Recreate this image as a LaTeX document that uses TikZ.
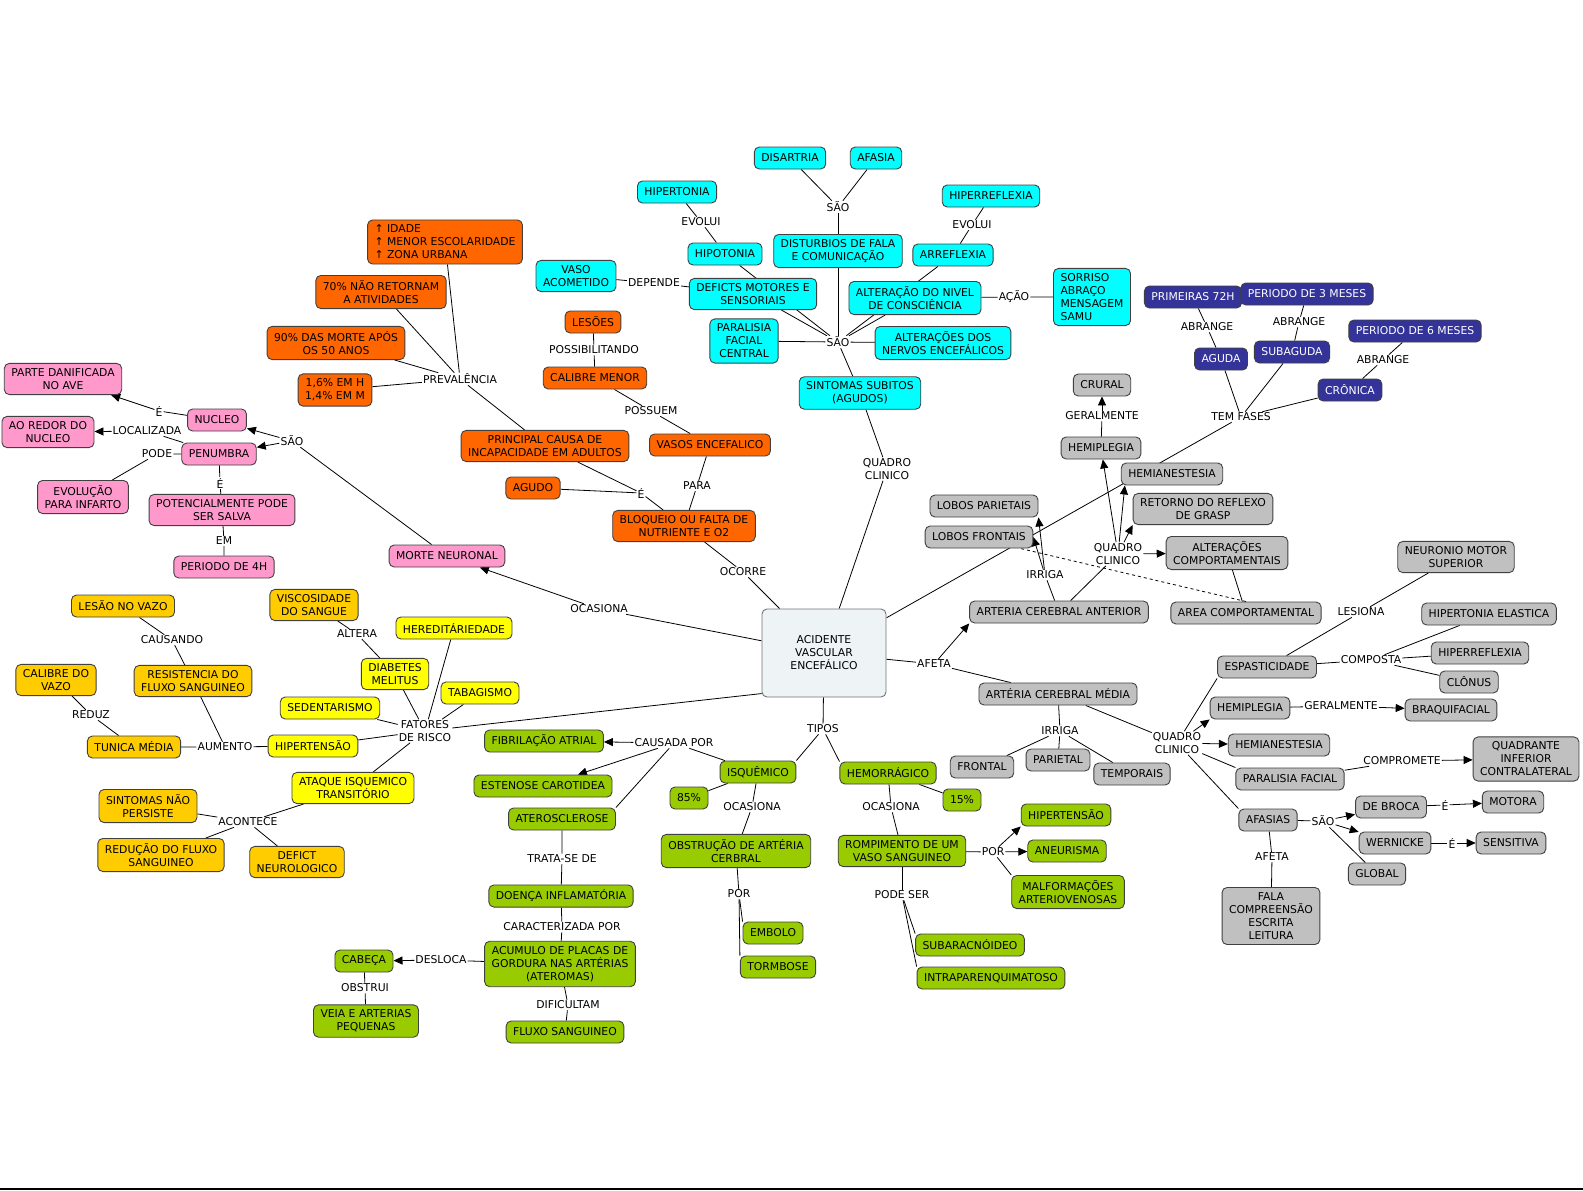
\documentclass[tikz,border=0pt]{standalone}
\usepackage{fontspec}
\setmainfont{DejaVu Sans}
\usepackage{tikz}
\usetikzlibrary{arrows.meta,calc,backgrounds}
\definecolor{cpink}{HTML}{FF99CC}
\definecolor{corange}{HTML}{FF6600}
\definecolor{ccyan}{HTML}{00FFFF}
\definecolor{cblue}{HTML}{333399}
\definecolor{cgray}{HTML}{C0C0C0}
\definecolor{cgold}{HTML}{FFCC00}
\definecolor{cyel}{HTML}{FFFF00}
\definecolor{cgreen}{HTML}{99CC00}
\definecolor{cmain}{HTML}{EEF3F5}
\tikzset{
  box/.style={rectangle, draw=black!75, line width=0.9pt, rounded corners=5pt, align=center, inner xsep=7pt, inner ysep=5pt, minimum height=22pt, font=\fontsize{10.8}{13}\selectfont},
  pinkbox/.style={box, fill=cpink},
  orbox/.style={box, fill=corange},
  cybox/.style={box, fill=ccyan},
  blbox/.style={box, fill=cblue, text=white},
  grbox/.style={box, fill=cgray},
  gdbox/.style={box, fill=cgold},
  yebox/.style={box, fill=cyel},
  gnbox/.style={box, fill=cgreen},
  mainbox/.style={box, fill=cmain, draw=black!55, minimum width=124pt, minimum height=88pt},
  lk/.style={inner sep=1pt, align=center, font=\fontsize{10.8}{13}\selectfont},
  ln/.style={line width=0.8pt},
  ar/.style={ln, -{Triangle[length=9pt,width=8pt]}},
  dsh/.style={ln, dashed}
}

\begin{document}
\begin{tikzpicture}[x=1pt,y=-1pt]
\useasboundingbox (0,0) rectangle (1583,1191);
% centro
\node[mainbox] (ave) at (824,653) {ACIDENTE\\VASCULAR\\ENCEFÁLICO};

% penumbra / nucleo
\node[pinkbox] (parte) at (63,379) {PARTE DANIFICADA\\NO AVE};
\node[pinkbox] (redor) at (48,432) {AO REDOR DO\\NUCLEO};
\node[pinkbox] (nucleo) at (217,420) {NUCLEO};
\node[pinkbox] (penum) at (219,454) {PENUMBRA};
\node[pinkbox] (evol) at (83,497) {EVOLUÇÃO\\PARA INFARTO};
\node[pinkbox] (salva) at (222,510) {POTENCIALMENTE PODE\\SER SALVA};
\node[pinkbox] (p4h) at (224,567) {PERIODO DE 4H};
\node[pinkbox] (morte) at (447,556) {MORTE NEURONAL};
\node[lk] (lE1) at (159,411) {É};
\node[lk] (lLoc) at (147,431) {LOCALIZADA};
\node[lk] (lPode) at (157,454) {PODE};
\node[lk] (lE2) at (220,483) {É};
\node[lk] (lEm) at (224,541) {EM};
\node[lk] (lSao1) at (292,441) {SÃO};
\node[lk] (lOcas1) at (599,609) {OCASIONA};

% prevalencia
\node[orbox, align=left] (idade) at (445,242) {↑ IDADE\\↑ MENOR ESCOLARIDADE\\↑ ZONA URBANA};
\node[orbox] (ret70) at (381,292) {70\% NÃO RETORNAM\\A ATIVIDADES};
\node[orbox] (m90) at (336,343) {90\% DAS MORTE APÓS\\OS 50 ANOS};
\node[orbox] (pct) at (335,390) {1,6\% EM H\\1,4\% EM M};
\node[lk] (lPrev) at (460,379) {PREVALÊNCIA};
\node[orbox] (princ) at (545,446) {PRINCIPAL CAUSA DE\\INCAPACIDADE EM ADULTOS};
\node[orbox] (agudo) at (533,488) {AGUDO};
\node[lk] (lE3) at (641,493) {É};
\node[orbox] (lesoes) at (593,322) {LESÕES};
\node[lk] (lPossi) at (594,350) {POSSIBILITANDO};
\node[orbox] (calib) at (595,378) {CALIBRE MENOR};
\node[lk] (lPossu) at (651,411) {POSSUEM};
\node[orbox] (vasos) at (710,445) {VASOS ENCEFALICO};
\node[lk] (lPara) at (697,486) {PARA};
\node[orbox] (bloq) at (684,526) {BLOQUEIO OU FALTA DE\\NUTRIENTE E O2};
\node[lk] (lOcorre) at (743,572) {OCORRE};

% quadro clinico
\node[cybox] (disart) at (790,158) {DISARTRIA};
\node[cybox] (afasia) at (876,158) {AFASIA};
\node[lk] (lSao2) at (838,207) {SÃO};
\node[cybox] (hiperton) at (677,192) {HIPERTONIA};
\node[lk] (lEvol1) at (701,222) {EVOLUI};
\node[cybox] (hipoton) at (725,254) {HIPOTONIA};
\node[cybox] (disturb) at (838,251) {DISTURBIOS DE FALA\\E COMUNICAÇÃO};
\node[cybox] (hiperref) at (991,196) {HIPERREFLEXIA};
\node[lk] (lEvol2) at (972,225) {EVOLUI};
\node[cybox] (arref) at (953,255) {ARREFLEXIA};
\node[cybox] (vaso) at (576,276) {VASO\\ACOMETIDO};
\node[lk] (lDep) at (654,283) {DEPENDE};
\node[cybox] (deficts) at (753,294) {DEFICTS MOTORES E\\SENSORIAIS};
\node[cybox] (nivel) at (915,298) {ALTERAÇÃO DO NIVEL\\DE CONSCIÊNCIA};
\node[lk] (lAcao) at (1014,297) {AÇÃO};
\node[cybox, align=left] (sorriso) at (1092,297) {SORRISO\\ABRAÇO\\MENSAGEM\\SAMU};
\node[cybox] (parfc) at (744,341) {PARALISIA\\FACIAL\\CENTRAL};
\node[lk] (lSao3) at (838,342) {SÃO};
\node[cybox] (nervos) at (943,343) {ALTERAÇÕES DOS\\NERVOS ENCEFÁLICOS};
\node[cybox] (sint) at (860,393) {SINTOMAS SUBITOS\\(AGUDOS)};
\node[lk] (lQc1) at (887,469) {QUADRO\\CLINICO};

% fases
\node[blbox] (p72) at (1193,297) {PRIMEIRAS 72H};
\node[blbox] (p3m) at (1307,294) {PERIODO DE 3 MESES};
\node[lk] (lAbr1) at (1207,327) {ABRANGE};
\node[lk] (lAbr2) at (1299,322) {ABRANGE};
\node[blbox] (aguda) at (1221,359) {AGUDA};
\node[blbox] (subag) at (1292,352) {SUBAGUDA};
\node[blbox] (p6m) at (1415,331) {PERIODO DE 6 MESES};
\node[lk] (lAbr3) at (1383,360) {ABRANGE};
\node[blbox] (cronica) at (1350,390) {CRÔNICA};
\node[lk] (lFases) at (1241,417) {TEM FASES};

% arterias
\node[grbox] (crural) at (1102,385) {CRURAL};
\node[lk] (lGer1) at (1102,416) {GERALMENTE};
\node[grbox] (hemiT) at (1101,448) {HEMIPLEGIA};
\node[grbox] (hemaT) at (1172,474) {HEMIANESTESIA};
\node[grbox] (retorno) at (1203,509) {RETORNO DO REFLEXO\\DE GRASP};
\node[grbox] (lpar) at (984,506) {LOBOS PARIETAIS};
\node[grbox] (lfro) at (979,537) {LOBOS FRONTAIS};
\node[lk] (lQc2) at (1118,554) {QUADRO\\CLINICO};
\node[grbox] (altc) at (1227,553) {ALTERAÇÕES\\COMPORTAMENTAIS};
\node[lk] (lIrr1) at (1045,575) {IRRIGA};
\node[grbox] (acant) at (1059,612) {ARTERIA CEREBRAL ANTERIOR};
\node[grbox] (areac) at (1246,613) {AREA COMPORTAMENTAL};
\node[lk] (lAfeta1) at (934,664) {AFETA};
\node[grbox] (acmed) at (1058,694) {ARTÉRIA CEREBRAL MÉDIA};
\node[lk] (lIrr2) at (1060,731) {IRRIGA};
\node[grbox] (frontal) at (982,767) {FRONTAL};
\node[grbox] (parietal) at (1058,760) {PARIETAL};
\node[grbox] (tempor) at (1132,774) {TEMPORAIS};
\node[lk] (lQc3) at (1177,743) {QUADRO\\CLINICO};
\node[grbox] (esp) at (1267,667) {ESPASTICIDADE};
\node[grbox] (neuro) at (1456,557) {NEURONIO MOTOR\\SUPERIOR};
\node[lk] (lLes) at (1361,612) {LESIONA};
\node[grbox] (hiperel) at (1489,614) {HIPERTONIA ELASTICA};
\node[lk] (lComp) at (1371,660) {COMPOSTA};
\node[grbox] (hiperR) at (1480,653) {HIPERREFLEXIA};
\node[grbox] (clonus) at (1469,682) {CLÔNUS};
\node[grbox] (hemiR) at (1250,708) {HEMIPLEGIA};
\node[lk] (lGer2) at (1341,706) {GERALMENTE};
\node[grbox] (braq) at (1451,710) {BRAQUIFACIAL};
\node[grbox] (hemaR) at (1279,745) {HEMIANESTESIA};
\node[grbox] (paf) at (1290,779) {PARALISIA FACIAL};
\node[lk] (lCompr) at (1402,761) {COMPROMETE};
\node[grbox] (quadr) at (1526,759) {QUADRANTE\\INFERIOR\\CONTRALATERAL};
\node[grbox] (broca) at (1391,807) {DE BROCA};
\node[lk] (lE4) at (1445,805) {É};
\node[grbox] (motora) at (1513,802) {MOTORA};
\node[grbox] (afas) at (1268,820) {AFASIAS};
\node[lk] (lSao4) at (1323,821) {SÃO};
\node[grbox] (wern) at (1395,843) {WERNICKE};
\node[lk] (lE5) at (1452,843) {É};
\node[grbox] (sens) at (1511,843) {SENSITIVA};
\node[grbox] (global) at (1377,874) {GLOBAL};
\node[lk] (lAfeta2) at (1272,857) {AFETA};
\node[grbox] (fala) at (1271,916) {FALA\\COMPREENSÃO\\ESCRITA\\LEITURA};

% tipos
\node[gnbox] (fibr) at (544,741) {FIBRILAÇÃO ATRIAL};
\node[lk] (lCaus) at (674,743) {CAUSADA POR};
\node[gnbox] (esten) at (543,786) {ESTENOSE CAROTIDEA};
\node[gnbox] (ath) at (562,819) {ATEROSCLEROSE};
\node[lk] (lTipos) at (823,729) {TIPOS};
\node[gnbox] (isq) at (758,772) {ISQUÊMICO};
\node[gnbox] (hem) at (888,773) {HEMORRÁGICO};
\node[gnbox] (p85) at (689,798) {85\%};
\node[gnbox] (p15) at (962,800) {15\%};
\node[lk] (lOc2) at (752,807) {OCASIONA};
\node[lk] (lOc3) at (891,807) {OCASIONA};
\node[gnbox] (obst) at (736,851) {OBSTRUÇÃO DE ARTÉRIA\\CERBRAL};
\node[gnbox] (romp) at (902,851) {ROMPIMENTO DE UM\\VASO SANGUINEO};
\node[gnbox] (hipG) at (1066,815) {HIPERTENSÃO};
\node[lk] (lPor2) at (993,852) {POR};
\node[gnbox] (aneu) at (1067,851) {ANEURISMA};
\node[gnbox] (malf) at (1068,892) {MALFORMAÇÕES\\ARTERIOVENOSAS};
\node[lk] (lPodeSer) at (902,895) {PODE SER};
\node[gnbox] (subar) at (970,945) {SUBARACNÓIDEO};
\node[gnbox] (intra) at (991,978) {INTRAPARENQUIMATOSO};
\node[lk] (lPor1) at (739,894) {POR};
\node[gnbox] (embolo) at (773,933) {EMBOLO};
\node[gnbox] (tormb) at (778,967) {TORMBOSE};
\node[lk] (lTrata) at (562,859) {TRATA-SE DE};
\node[gnbox] (doenca) at (561,896) {DOENÇA INFLAMATÓRIA};
\node[lk] (lCarac) at (562,927) {CARACTERIZADA POR};
\node[gnbox] (acum) at (560,964) {ACUMULO DE PLACAS DE\\GORDURA NAS ARTÉRIAS\\(ATEROMAS)};
\node[lk] (lDif) at (568,1005) {DIFICULTAM};
\node[gnbox] (fluxo) at (565,1032) {FLUXO SANGUINEO};
\node[gnbox] (cabeca) at (364,961) {CABEÇA};
\node[lk] (lDesl) at (441,960) {DESLOCA};
\node[lk] (lObs) at (365,988) {OBSTRUI};
\node[gnbox] (veia) at (366,1021) {VEIA E ARTERIAS\\PEQUENAS};

% fatores de risco
\node[gdbox] (lesao) at (123,606) {LESÃO NO VAZO};
\node[lk] (lCausando) at (172,640) {CAUSANDO};
\node[gdbox] (visc) at (314,605) {VISCOSIDADE\\DO SANGUE};
\node[lk] (lAltera) at (357,634) {ALTERA};
\node[yebox] (hered) at (454,628) {HEREDITÁRIEDADE};
\node[gdbox] (calvazo) at (56,680) {CALIBRE DO\\VAZO};
\node[gdbox] (resist) at (193,681) {RESISTENCIA DO\\FLUXO SANGUINEO};
\node[yebox] (diab) at (395,674) {DIABETES\\MELITUS};
\node[yebox] (tabag) at (480,693) {TABAGISMO};
\node[yebox] (sedent) at (330,708) {SEDENTARISMO};
\node[lk] (lReduz) at (91,715) {REDUZ};
\node[lk] (lFat) at (425,731) {FATORES\\DE RISCO};
\node[gdbox] (tunica) at (134,747) {TUNICA MÉDIA};
\node[lk] (lAum) at (225,747) {AUMENTO};
\node[yebox] (hipY) at (313,746) {HIPERTENSÃO};
\node[yebox] (ataque) at (353,788) {ATAQUE ISQUEMICO\\TRANSITÓRIO};
\node[gdbox] (sintn) at (148,806) {SINTOMAS NÃO\\PERSISTE};
\node[lk] (lAcont) at (248,822) {ACONTECE};
\node[gdbox] (reduc) at (161,855) {REDUÇÃO DO FLUXO\\SANGUINEO};
\node[gdbox] (defict) at (297,862) {DEFICT\\NEUROLOGICO};

\begin{scope}[on background layer]
% penumbra
\draw[ln] (ave) -- (lOcas1);
\draw[ar] (lOcas1) -- (morte);
\draw[ln] (morte) -- (lSao1);
\draw[ar] (lSao1) -- (nucleo);
\draw[ar] (lSao1) -- (penum);
\draw[ln] (nucleo) -- (lE1);
\draw[ar] (lE1) -- (parte);
\draw[ln] (penum) -- (lLoc);
\draw[ar] (lLoc) -- (redor);
\draw[ln] (penum) -- (lPode) -- (evol);
\draw[ln] (penum) -- (lE2) -- (salva) -- (lEm) -- (p4h);
% prevalencia
\draw[ln] (idade) -- (lPrev);
\draw[ln] (ret70) -- (lPrev);
\draw[ln] (m90) -- (lPrev);
\draw[ln] (pct) -- (lPrev);
\draw[ln] (lPrev) -- (princ);
\draw[ln] (princ) -- (lE3);
\draw[ln] (agudo) -- (lE3);
\draw[ln] (lE3) -- (bloq);
\draw[ln] (lesoes) -- (lPossi) -- (calib) -- (lPossu) -- (vasos) -- (lPara) -- (bloq);
\draw[ln] (bloq) -- (lOcorre) -- (ave);
% quadro clinico
\draw[ln] (ave) -- (lQc1) -- (sint) -- (lSao3);
\draw[ln] (lSao3) -- (deficts);
\draw[ln] (lSao3) -- (hipoton);
\draw[ln] (lSao3) -- (disturb);
\draw[ln] (lSao3) -- (arref);
\draw[ln] (lSao3) -- (nivel);
\draw[ln] (lSao3) -- (parfc);
\draw[ln] (lSao3) -- (nervos);
\draw[ln] (disturb) -- (lSao2);
\draw[ln] (lSao2) -- (disart);
\draw[ln] (lSao2) -- (afasia);
\draw[ln] (hipoton) -- (lEvol1) -- (hiperton);
\draw[ln] (arref) -- (lEvol2) -- (hiperref);
\draw[ln] (deficts) -- (lDep) -- (vaso);
\draw[ln] (nivel) -- (lAcao) -- (sorriso);
% fases
\draw[ln] (ave) -- (lFases);
\draw[ln] (lFases) -- (aguda);
\draw[ln] (lFases) -- (subag);
\draw[ln] (lFases) -- (cronica);
\draw[ln] (aguda) -- (lAbr1) -- (p72);
\draw[ln] (subag) -- (lAbr2) -- (p3m);
\draw[ln] (cronica) -- (lAbr3) -- (p6m);
% arteria cerebral anterior
\draw[ln] (ave) -- (lAfeta1);
\draw[ar] (lAfeta1) -- (acant.south west);
\draw[ln] (lAfeta1) -- (acmed);
\draw[ln] (acant) -- (lIrr1);
\draw[ar] (lIrr1) -- (lpar.south east);
\draw[ar] (lIrr1) -- (lfro.east);
\draw[ln] (acant) -- (lQc2);
\draw[ar] (lQc2) -- (hemiT);
\draw[ar] (lQc2) -- ($(hemaT.south west)+(4,0)$);
\draw[ar] (lQc2) -- (retorno.south west);
\draw[ar] (lQc2) -- (altc);
\draw[ln] (hemiT) -- (lGer1);
\draw[ar] (lGer1) -- (crural);
\draw[ln] (altc) -- (areac);
\draw[dsh] (areac.north) -- ($(lfro.south east)+(-13,0)$);
% arteria cerebral media
\draw[ln] (acmed) -- (lIrr2);
\draw[ln] (lIrr2) -- (frontal);
\draw[ln] (lIrr2) -- (parietal);
\draw[ln] (lIrr2) -- (tempor);
\draw[ln] (acmed) -- (lQc3);
\draw[ln] (lQc3) -- (esp.south west);
\draw[ar] (lQc3) -- (hemiR.south west);
\draw[ar] (lQc3) -- (hemaR);
\draw[ln] (lQc3) -- (paf.north west);
\draw[ln] (lQc3) -- (afas.north west);
\draw[ln] (esp) -- (lLes) -- (neuro);
\draw[ln] (esp) -- (lComp);
\draw[ln] (lComp) -- (hiperel);
\draw[ln] (lComp) -- (hiperR);
\draw[ln] (lComp) -- (clonus);
\draw[ln] (hemiR) -- (lGer2);
\draw[ar] (lGer2) -- (braq);
\draw[ln] (paf) -- (lCompr);
\draw[ar] (lCompr) -- (quadr);
\draw[ln] (afas) -- (lSao4);
\draw[ar] (lSao4) -- (broca);
\draw[ar] (lSao4) -- (wern);
\draw[ln] (lSao4) -- (global);
\draw[ln] (broca) -- (lE4);
\draw[ar] (lE4) -- (motora);
\draw[ln] (wern) -- (lE5);
\draw[ar] (lE5) -- (sens);
\draw[ln] (afas) -- (lAfeta2) -- (fala);
% tipos
\draw[ln] (ave) -- (lTipos);
\draw[ln] (lTipos) -- (isq.north east);
\draw[ln] (lTipos) -- (hem.north west);
\draw[ln] (isq) -- (p85);
\draw[ln] (hem) -- (p15);
\draw[ln] (isq) -- (lCaus);
\draw[ar] (lCaus) -- (fibr);
\draw[ar] (lCaus) -- (esten);
\draw[ln] (lCaus) -- (ath.north east);
\draw[ln] (isq) -- (lOc2) -- (obst) -- (lPor1);
\draw[ln] (lPor1) -- (embolo.north west);
\draw[ln] (lPor1) -- (tormb.north west);
\draw[ln] (hem) -- (lOc3) -- (romp) -- (lPor2);
\draw[ar] (lPor2) -- (hipG.south west);
\draw[ar] (lPor2) -- (aneu);
\draw[ln] (lPor2) -- (malf.north west);
\draw[ln] (romp) -- (lPodeSer);
\draw[ln] (lPodeSer) -- (subar.north west);
\draw[ln] (lPodeSer) -- (intra.north west);
\draw[ln] (ath) -- (lTrata) -- (doenca) -- (lCarac) -- (acum) -- (lDif) -- (fluxo);
\draw[ln] (acum) -- (lDesl);
\draw[ar] (lDesl) -- (cabeca);
\draw[ln] (cabeca) -- (lObs) -- (veia);
% fatores de risco
\draw[ln] (ave.213) -- (lFat);
\draw[ln] (lFat) -- (hered);
\draw[ln] (lFat) -- (diab);
\draw[ln] (lFat) -- (tabag);
\draw[ln] (lFat) -- (sedent);
\draw[ln] (lFat) -- (hipY);
\draw[ln] (lFat) -- (ataque);
\draw[ln] (diab) -- (lAltera) -- (visc);
\draw[ln] (hipY) -- (lAum) -- (tunica);
\draw[ln] (lAum) -- (resist) -- (lCausando) -- (lesao);
\draw[ln] (tunica) -- (lReduz) -- (calvazo);
\draw[ln] (ataque) -- (lAcont);
\draw[ln] (lAcont) -- (sintn);
\draw[ln] (lAcont) -- (reduc);
\draw[ln] (lAcont) -- (defict);
\end{scope}
\draw[line width=1.6pt] (0,1189) -- (1583,1189);
\end{tikzpicture}
\end{document}
